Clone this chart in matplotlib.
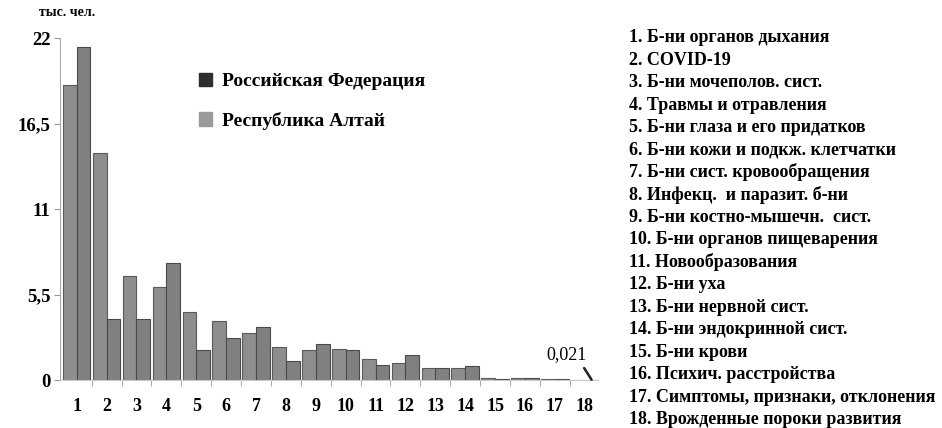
import numpy as np
import matplotlib.pyplot as plt
from matplotlib.patches import Patch

plt.rcParams['font.family'] = ['Liberation Serif', 'DejaVu Serif']

groups = list(range(1, 19))
rf = [19.0, 14.6, 6.7, 6.0, 4.4, 3.8, 3.0, 2.1, 1.95, 2.0, 1.35, 1.1, 0.75, 0.75, 0.15, 0.15, 0.1, 0.0]
altai = [21.4, 3.9, 3.9, 7.5, 1.95, 2.7, 3.4, 1.2, 2.3, 1.95, 1.0, 1.6, 0.75, 0.9, 0.1, 0.15, 0.05, 0.021]
yticks = [0, 5.5, 11, 16.5, 22]
ytick_labels = ['0', '5,5', '11', '16,5', '22']
causes = [
    'Б-ни органов дыхания',
    'COVID-19',
    'Б-ни мочеполов. сист.',
    'Травмы и отравления',
    'Б-ни глаза и его придатков',
    'Б-ни кожи и подкж. клетчатки',
    'Б-ни сист. кровообращения',
    'Инфекц.  и паразит. б-ни',
    'Б-ни костно-мышечн.  сист.',
    'Б-ни органов пищеварения',
    'Новообразования',
    'Б-ни уха',
    'Б-ни нервной сист.',
    'Б-ни эндокринной сист.',
    'Б-ни крови',
    'Психич. расстройства',
    'Симптомы, признаки, отклонения',
    'Врожденные пороки развития',
]
series_names = ['Российская Федерация', 'Республика Алтай']

fig = plt.figure(figsize=(9.42, 4.28), dpi=100)
ax = fig.add_axes([0.064, 0.112, 0.571, 0.799])

x = np.array(groups)
w = 0.46
ax.bar(x - w / 2, rf, width=w, color='#8e8e8e', edgecolor='#5a5a5a', linewidth=0.8)
ax.bar(x + w / 2, altai, width=w, color='#808080', edgecolor='#4a4a4a', linewidth=0.8)

ax.set_xlim(0.45, 18.45)
ax.set_ylim(0, 22)
ax.set_yticks(yticks)
ax.set_yticklabels(ytick_labels, fontsize=13.5, fontweight='bold')
ax.set_xticks(x)
ax.set_xticklabels([str(g) for g in groups], fontsize=13, fontweight='bold')
ax.tick_params(axis='x', length=0, pad=13)
ax.tick_params(axis='y', length=4, width=0.8, color='#999999', pad=3, direction='out')
# small separators between groups on the category axis
ax.set_xticks(np.arange(1.5, 18.5, 1), minor=True)
ax.tick_params(axis='x', which='minor', length=4, color='#999999', direction='out')
for s in ['top', 'right']:
    ax.spines[s].set_visible(False)
ax.spines['left'].set_color('#aaaaaa')
ax.spines['bottom'].set_color('#cccccc')

# value label for the smallest bar
ax.annotate('0,021', xy=(18 + w / 2, altai[17]), xytext=(17.4, 1.1),
            fontsize=13, ha='center', va='bottom',
            arrowprops=dict(arrowstyle='-', color='#222222', lw=1.8,
                            relpos=(0.85, 0.0), shrinkA=2, shrinkB=0))

ax.text(-0.04, 1.055, 'тыс. чел.', transform=ax.transAxes, fontsize=10,
        fontweight='bold', ha='left', va='bottom')

handles = [Patch(facecolor='#2e2e2e', edgecolor='#2e2e2e'),
           Patch(facecolor='#9a9a9a', edgecolor='#9a9a9a')]
ax.legend(handles, series_names, loc='upper left', bbox_to_anchor=(0.225, 0.95),
          frameon=False, prop={'size': 14, 'weight': 'bold'}, handlelength=0.7,
          handleheight=0.7, handletextpad=0.5, labelspacing=1.1)

for i, name in enumerate(causes):
    fig.text(0.668, 0.912 - i * 0.0525, f'{i + 1}. {name}', fontsize=13,
             fontweight='bold', ha='left', va='center')

fig.savefig('out.png', dpi=100)
